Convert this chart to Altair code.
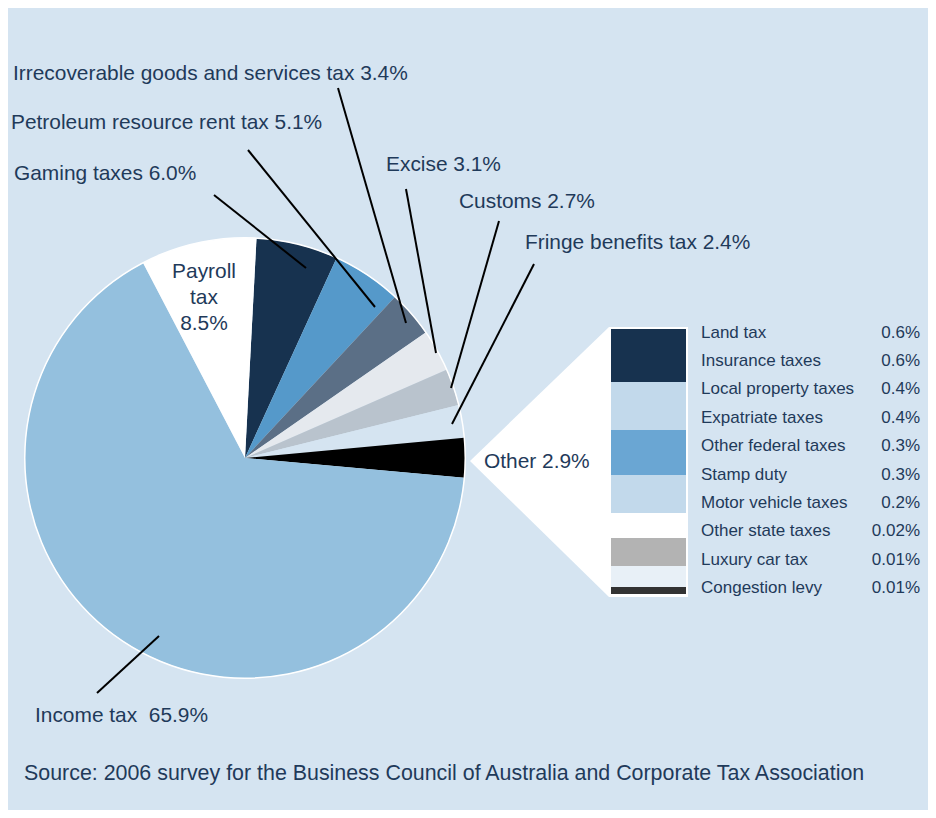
import math
import altair as alt
import pandas as pd

# ---------------- data ----------------
slice_names = ["Gaming taxes", "Petroleum resource rent tax",
               "Irrecoverable goods and services tax", "Excise", "Customs",
               "Fringe benefits tax", "Other", "Income tax", "Payroll tax"]
slice_shares = [6.0, 5.1, 3.4, 3.1, 2.7, 2.4, 2.9, 65.9, 8.5]
slice_colors = ["#17324f", "#5599ca", "#5b6f86", "#e5e9ee", "#b9c3cd",
                "#d5e4f1", "#000000", "#94c0de", "#ffffff"]

other_names = ["Land tax", "Insurance taxes", "Local property taxes",
               "Expatriate taxes", "Other federal taxes", "Stamp duty",
               "Motor vehicle taxes", "Other state taxes", "Luxury car tax",
               "Congestion levy"]
other_values = ["0.6%", "0.6%", "0.4%", "0.4%", "0.3%", "0.3%", "0.2%",
                "0.02%", "0.01%", "0.01%"]
swatch_colors = ["#17324f", "#c2d9eb", "#6aa6d3", "#c2d9eb", "#ffffff",
                 "#b3b3b3", "#e8f0f7", "#333333"]

source_text = "Source: 2006 survey for the Business Council of Australia and Corporate Tax Association"

# ---------------- layout (page pixel units) ----------------
BG = "#d5e4f1"
TXT = "#1f3a5a"
FONT = "Liberation Sans"
W, H = 920, 802
CX, CY, R = 245, 458, 220
START = math.radians(3.0)
LABEL_SIZE = 20.9

# label anchors: (x, y, align) and leader lines (x1, y1, x2, y2)
label_pos = {
    "Gaming taxes": (14, 174, "left"),
    "Petroleum resource rent tax": (11, 123, "left"),
    "Irrecoverable goods and services tax": (13, 74, "left"),
    "Excise": (386, 165, "left"),
    "Customs": (459, 202, "left"),
    "Fringe benefits tax": (525, 243, "left"),
    "Other": (484, 462, "left"),
    "Income tax": (35, 716, "left"),
    "Payroll tax": (204, 272, "center"),
}
leaders = {
    "Gaming taxes": (214, 195, 306, 268),
    "Petroleum resource rent tax": (248, 150, 375, 307),
    "Irrecoverable goods and services tax": (338, 88, 406, 323),
    "Excise": (406, 189, 436, 353),
    "Customs": (499, 221, 451, 388),
    "Fringe benefits tax": (534, 264, 452, 424),
    "Income tax": (97, 693, 159, 636),
}
legend_top, legend_step = 332.7, 28.37
name_x, value_x = 701, 920
sw_x1, sw_x2, sw_top = 611, 686, 329
sw_spans = [53, 48, 45, 38, 25, 28, 21, 7]
frame = (609, 688, 327, 597)
tri_tip = (470, 461)

# ---------------- helpers ----------------
xs = alt.Scale(domain=[8, 8 + W], nice=False, zero=False)
ys = alt.Scale(domain=[8, 8 + H], nice=False, zero=False, reverse=True)


def X(f):
    return alt.X(f, type="quantitative", scale=xs, axis=None)


def Y(f):
    return alt.Y(f, type="quantitative", scale=ys, axis=None)


# ---------------- tables ----------------
pie_df = pd.DataFrame({
    "name": slice_names, "share": slice_shares, "col": slice_colors,
    "idx": list(range(len(slice_names))),
})


def label_text(n, s):
    if n == "Payroll tax":
        return "Payroll\ntax\n%.1f%%" % s
    if n == "Income tax":
        return "Income tax\u00a0 %.1f%%" % s
    return "%s %.1f%%" % (n, s)


lab_rows = []
for n, s in zip(slice_names, slice_shares):
    x, y, a = label_pos[n]
    lab_rows.append({"t": label_text(n, s), "x": x, "y": y, "a": a})
lab_df = pd.DataFrame(lab_rows)

lead_df = pd.DataFrame([
    {"x": v[0], "y": v[1], "x2": v[2], "y2": v[3]} for v in leaders.values()
])

leg_df = pd.DataFrame({
    "name": other_names, "val": other_values,
    "y": [legend_top + i * legend_step for i in range(len(other_names))],
    "xn": name_x, "xv": value_x,
})

sw_rows = []
cur = sw_top
for c, h in zip(swatch_colors, sw_spans):
    sw_rows.append({"x": sw_x1, "x2": sw_x2, "y": cur, "y2": cur + h, "col": c})
    cur += h
sw_df = pd.DataFrame(sw_rows)

frame_df = pd.DataFrame([{"x": frame[0], "x2": frame[1], "y": frame[2], "y2": frame[3]}])
tri_df = pd.DataFrame([
    {"x": tri_tip[0], "y": tri_tip[1], "y2": tri_tip[1]},
    {"x": frame[0], "y": frame[2], "y2": frame[3]},
])
src_df = pd.DataFrame([{"t": source_text, "x": 24, "y": 774}])

# ---------------- layers ----------------
tri = alt.Chart(tri_df).mark_area(color="white", opacity=1).encode(
    x=X("x"), y=Y("y"), y2="y2")

frm = alt.Chart(frame_df).mark_rect(color="white").encode(
    x=X("x"), x2="x2", y=Y("y"), y2="y2")

sw = alt.Chart(sw_df).mark_rect().encode(
    x=X("x"), x2="x2", y=Y("y"), y2="y2",
    color=alt.Color("col:N", scale=None))

pie = alt.Chart(pie_df).mark_arc(outerRadius=R).encode(
    x=alt.X(datum=CX, type="quantitative", scale=xs, axis=None),
    y=alt.Y(datum=CY, type="quantitative", scale=ys, axis=None),
    theta=alt.Theta("share:Q", stack=True,
                    scale=alt.Scale(range=[START, START + 2 * math.pi])),
    order=alt.Order("idx:Q"),
    color=alt.Color("col:N", scale=None),
)

outline = alt.Chart(pd.DataFrame([{"a": 1}])).mark_arc(
    outerRadius=R + 1, innerRadius=R - 0.5, theta=0, theta2=2 * math.pi,
    color="white").encode(
    x=alt.X(datum=CX, type="quantitative", scale=xs, axis=None),
    y=alt.Y(datum=CY, type="quantitative", scale=ys, axis=None),
)

lead = alt.Chart(lead_df).mark_rule(color="black", strokeWidth=2).encode(
    x=X("x"), y=Y("y"), x2="x2", y2="y2")

lab_left = alt.Chart(lab_df[lab_df.a == "left"]).mark_text(
    align="left", baseline="middle", font=FONT, fontSize=LABEL_SIZE, color=TXT
).encode(x=X("x"), y=Y("y"), text="t:N")

lab_center = alt.Chart(lab_df[lab_df.a == "center"]).mark_text(
    align="center", baseline="middle", font=FONT, fontSize=LABEL_SIZE, color=TXT,
    lineBreak="\n", lineHeight=26
).encode(x=X("x"), y=Y("y"), text="t:N")

leg_names = alt.Chart(leg_df).mark_text(
    align="left", baseline="middle", font=FONT, fontSize=17, color=TXT
).encode(x=X("xn"), y=Y("y"), text="name:N")

leg_vals = alt.Chart(leg_df).mark_text(
    align="right", baseline="middle", font=FONT, fontSize=17, color=TXT
).encode(x=X("xv"), y=Y("y"), text="val:N")

src = alt.Chart(src_df).mark_text(
    align="left", baseline="middle", font=FONT, fontSize=21.4, color=TXT
).encode(x=X("x"), y=Y("y"), text="t:N")

chart = alt.layer(
    tri, frm, sw, pie, outline, lead, lab_left, lab_center,
    leg_names, leg_vals, src
).properties(
    width=W, height=H, padding=0, background=BG,
    autosize=alt.AutoSizeParams(type="none"),
).configure_view(stroke=None)

chart.save("out.html", embed_options={"renderer": "svg", "actions": False})
